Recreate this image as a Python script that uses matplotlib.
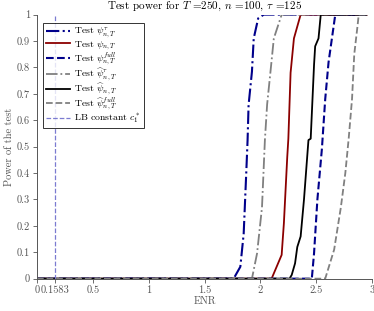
import numpy as np
import matplotlib
matplotlib.use('Agg')
import matplotlib.pyplot as plt

plt.rcParams['font.family'] = ['cmr10', 'DejaVu Serif']
plt.rcParams['mathtext.fontset'] = 'cm'
plt.rcParams['axes.formatter.use_mathtext'] = True

# power curves (ENR, power)
enr_psi_tau = [0, 1.76, 1.80, 1.82, 1.85, 1.873, 1.885, 1.894, 1.924, 1.94, 1.98, 2.03, 2.95]
pow_psi_tau = [0, 0, 0.03, 0.045, 0.17, 0.40, 0.525, 0.658, 0.784, 0.91, 0.986, 1, 1]

enr_psi = [0, 2.10, 2.19, 2.21, 2.24, 2.25, 2.27, 2.30, 2.36, 2.95]
pow_psi = [0, 0, 0.09, 0.21, 0.46, 0.53, 0.78, 0.91, 1, 1]

enr_psi_full = [0, 2.46, 2.48, 2.51, 2.55, 2.58, 2.61, 2.66, 2.67, 2.95]
pow_psi_full = [0, 0, 0.096, 0.30, 0.49, 0.68, 0.82, 0.97, 1, 1]

enr_hat_tau = [0, 1.924, 1.97, 2.014, 2.04, 2.06, 2.09, 2.12, 2.19, 2.95]
pow_hat_tau = [0, 0, 0.096, 0.27, 0.525, 0.66, 0.784, 0.91, 1, 1]

enr_hat = [0, 2.26, 2.28, 2.31, 2.33, 2.36, 2.39, 2.43, 2.45, 2.48, 2.49, 2.52, 2.54, 2.95]
pow_hat = [0, 0, 0.014, 0.058, 0.12, 0.16, 0.30, 0.525, 0.53, 0.81, 0.88, 0.91, 1, 1]

enr_hat_full = [0, 2.58, 2.66, 2.72, 2.76, 2.79, 2.82, 2.84, 2.87, 2.88, 2.95]
pow_hat_full = [0, 0, 0.11, 0.27, 0.40, 0.53, 0.68, 0.85, 0.96, 1, 1]

c1 = 0.1583
xticks = [0, c1, 0.5, 1, 1.5, 2, 2.5, 3]
xticklabels = ['0', '0.1583', '0.5', '1', '1.5', '2', '2.5', '3']

navy = '#00008B'
dred = '#8B0000'
gray = '#808080'
axc = '#555555'

fig = plt.figure(figsize=(3.74, 3.11), dpi=100)
ax = fig.add_axes([0.099, 0.104, 0.896, 0.849])

ax.plot(enr_psi_tau, pow_psi_tau, '-.', color=navy, lw=1.5, label=r'Test $\psi^{\tau}_{n,T}$')
ax.plot(enr_psi, pow_psi, '-', color=dred, lw=1.3, label=r'Test $\psi_{n,T}$')
ax.plot(enr_psi_full, pow_psi_full, '--', color=navy, lw=1.5, label=r'Test $\psi^{full}_{n,T}$')
ax.plot(enr_hat_tau, pow_hat_tau, '-.', color=gray, lw=1.3, label=r'Test $\widehat{\psi}^{\tau}_{n,T}$')
ax.plot(enr_hat, pow_hat, '-', color='black', lw=1.3, label=r'Test $\widehat{\psi}_{n,T}$')
ax.plot(enr_hat_full, pow_hat_full, '--', color=gray, lw=1.3, label=r'Test $\widehat{\psi}^{full}_{n,T}$')
ax.plot([c1, c1], [0, 1], '--', color='#7B7BD0', lw=0.9, label=r'LB constant $c_1^*$')

ax.set_xlim(0, 3)
ax.set_ylim(0, 1)
ax.set_xticks(xticks)
ax.set_xticklabels(xticklabels)
ax.set_yticks(np.arange(0, 1.01, 0.1))
ax.set_yticklabels(['0', '0.1', '0.2', '0.3', '0.4', '0.5', '0.6', '0.7', '0.8', '0.9', '1'])
ax.tick_params(direction='out', length=3, width=0.6, colors=axc, labelsize=7.5, pad=2)
for s in ['top', 'right']:
    ax.spines[s].set_visible(False)
for s in ['left', 'bottom']:
    ax.spines[s].set_color(axc)
    ax.spines[s].set_linewidth(0.7)

ax.set_title(r'Test power for $T$ =250, $n$ =100, $\tau$ =125', fontsize=8, pad=4)
ax.set_xlabel('ENR', fontsize=7.5, color=axc, labelpad=1)
ax.set_ylabel('Power of the test', fontsize=7.5, color=axc, labelpad=2)

leg = ax.legend(loc='upper left', bbox_to_anchor=(0.018, 0.97), fontsize=7,
                frameon=True, fancybox=False, handlelength=2.5, handletextpad=0.4,
                labelspacing=-0.15, borderpad=0.3, borderaxespad=0)
leg.get_frame().set_edgecolor('black')
leg.get_frame().set_linewidth(0.7)

fig.savefig('out.png', dpi=100)
